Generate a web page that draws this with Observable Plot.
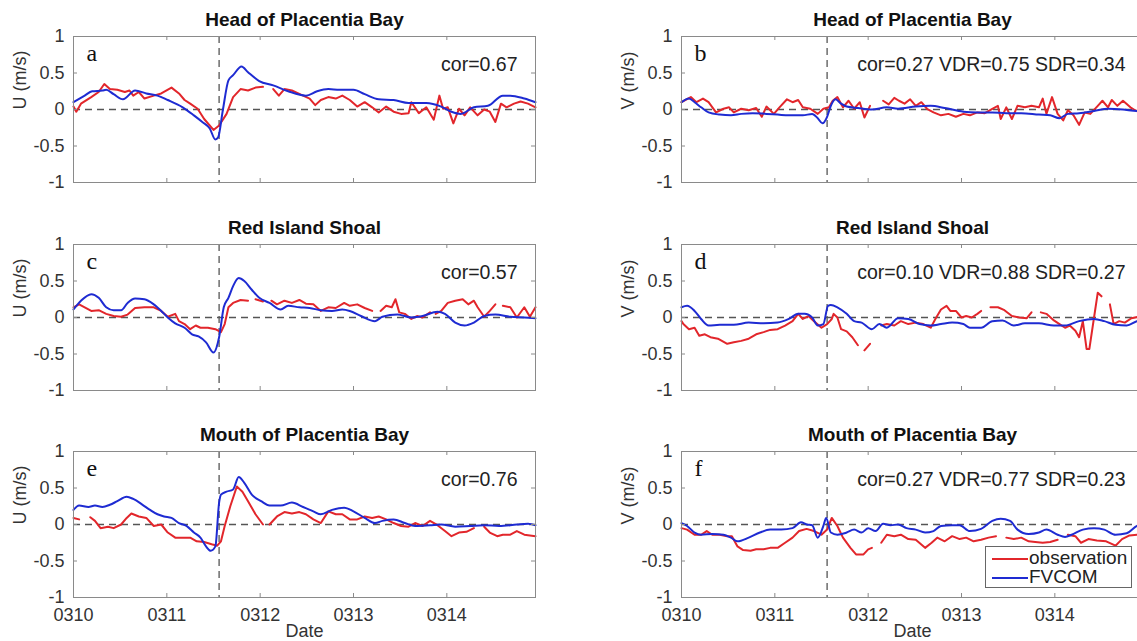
<!DOCTYPE html>
<html><head><meta charset="utf-8">
<script src="https://cdn.jsdelivr.net/npm/d3@7"></script>
<script src="https://cdn.jsdelivr.net/npm/@observablehq/plot@0.6"></script>
<style>
body{margin:0;background:#fff;}
#wrap{position:relative;width:1137px;height:641px;overflow:hidden;background:#fff;font-family:"Liberation Sans",Arial,sans-serif;}
.panel{position:absolute;}
.panel svg{overflow:visible;max-width:none !important;display:block;}
#legend{position:absolute;left:985px;top:546px;width:147px;height:42px;border:1px solid #666;background:#fff;box-sizing:border-box;font-size:19px;color:#222;}
#legend .row{position:absolute;left:6px;height:19px;line-height:19px;white-space:nowrap;}
#legend .sw{display:inline-block;width:36px;height:2px;vertical-align:middle;margin-right:1px;}
</style></head><body><div id="wrap"></div>
<script>
// ---- axes / labels ----
const days = [0, 1, 2, 3, 4];
const dayLabels = ["0310", "0311", "0312", "0313", "0314"];
const yTicks = [-1, -0.5, 0, 0.5, 1];
const yTickLabels = ["-1", "-0.5", "0", "0.5", "1"];
const eventDay = 1.56;
const titles = ["Head of Placentia Bay", "Red Island Shoal", "Mouth of Placentia Bay"];
const letters = ["a", "b", "c", "d", "e", "f"];
const stats = ["cor=0.67", "cor=0.27 VDR=0.75 SDR=0.34", "cor=0.57", "cor=0.10 VDR=0.88 SDR=0.27", "cor=0.76", "cor=0.27 VDR=0.77 SDR=0.23"];
const yLabels = ["U (m/s)", "V (m/s)"];
const seriesNames = ["observation", "FVCOM"];

// ---- data: [day since 0310 00:00, velocity m/s] ----
const aObs = [[0,.04],[.03,-.03],[.08,.08],[.19,.17],[.27,.24],[.33,.35],[.39,.28],[.47,.27],[.55,.24],[.60,.26],[.64,.19],[.70,.24],[.76,.15],[.86,.19],[.94,.22],[1.05,.30],[1.13,.22],[1.19,.13],[1.25,.08],[1.33,.01],[1.40,-.13],[1.50,-.28],[1.56,-.22],[1.64,-.06],[1.71,.17],[1.79,.28],[1.87,.26],[1.95,.30],[2.03,.31],[2.08,null],[2.14,.28],[2.20,.19],[2.26,.28],[2.34,.26],[2.46,.19],[2.53,.15],[2.59,.06],[2.65,.13],[2.73,.17],[2.81,.15],[2.88,.19],[2.96,.13],[3.04,.04],[3.12,.10],[3.20,.03],[3.27,-.04],[3.35,.04],[3.43,-.03],[3.51,-.06],[3.59,-.05],[3.62,.10],[3.70,-.05],[3.78,.03],[3.86,-.14],[3.92,.19],[3.96,.01],[4.01,.03],[4.07,-.19],[4.13,.01],[4.19,-.08],[4.25,.03],[4.33,-.08],[4.40,.00],[4.46,-.03],[4.52,-.17],[4.58,.08],[4.64,.03],[4.72,.08],[4.79,.11],[4.87,.08],[4.95,.03]];
const aMod = [[0,.10],[.12,.19],[.20,.25],[.31,.26],[.35,.27],[.43,.21],[.53,.14],[.66,.26],[.78,.22],[.90,.19],[1.01,.13],[1.17,.03],[1.29,-.08],[1.38,-.17],[1.46,-.26],[1.52,-.41],[1.55,-.38],[1.60,-.01],[1.66,.40],[1.71,.47],[1.80,.59],[1.87,.51],[1.99,.39],[2.14,.33],[2.30,.25],[2.49,.19],[2.61,.25],[2.73,.28],[2.85,.27],[3.00,.27],[3.12,.21],[3.27,.14],[3.43,.13],[3.59,.09],[3.78,.09],[3.94,.04],[4.05,-.03],[4.15,-.06],[4.29,.03],[4.44,.05],[4.60,.19],[4.68,.19],[4.83,.15],[4.95,.10]];

const bObs = [[0,.10],[.10,.17],[.16,.10],[.23,.15],[.29,.10],[.37,-.04],[.45,.01],[.51,.03],[.56,-.04],[.64,.01],[.72,-.01],[.80,.02],[.86,-.10],[.91,.04],[.99,-.06],[1.05,.03],[1.13,.14],[1.19,.10],[1.25,.13],[1.30,.03],[1.38,.01],[1.46,-.06],[1.52,.01],[1.58,.03],[1.62,.12],[1.67,.17],[1.73,.03],[1.79,.12],[1.85,.01],[1.91,.10],[1.96,-.11],[2.02,.05],[2.09,null],[2.16,.12],[2.22,.07],[2.28,.16],[2.33,.12],[2.39,.08],[2.45,.14],[2.51,.05],[2.57,.10],[2.63,.01],[2.70,-.04],[2.78,-.08],[2.86,-.06],[2.94,-.10],[3.02,-.06],[3.09,-.08],[3.17,-.04],[3.25,-.05],[3.33,.01],[3.39,.05],[3.42,-.13],[3.48,.03],[3.54,-.13],[3.60,.05],[3.68,.03],[3.75,.05],[3.83,.03],[3.87,.15],[3.91,-.06],[3.97,.17],[4.03,-.06],[4.09,-.15],[4.14,-.01],[4.20,-.08],[4.26,-.21],[4.32,-.04],[4.38,-.06],[4.46,.05],[4.51,.12],[4.57,.03],[4.61,.13],[4.67,.05],[4.73,.12],[4.81,.03],[4.86,-.01],[4.91,-.04],[4.95,-.02]];
const bMod = [[0,.10],[.08,.15],[.14,.10],[.21,.03],[.29,-.04],[.41,-.07],[.53,-.08],[.64,-.06],[.76,-.05],[.91,-.06],[1.03,-.07],[1.15,-.08],[1.30,-.08],[1.40,-.06],[1.46,-.12],[1.51,-.19],[1.56,-.10],[1.60,.05],[1.65,.14],[1.71,.08],[1.77,.04],[1.89,.02],[2.04,.00],[2.20,.03],[2.32,.01],[2.51,.04],[2.67,.05],[2.82,.02],[3.02,-.03],[3.17,-.04],[3.33,-.04],[3.48,-.05],[3.64,-.05],[3.83,-.07],[3.95,-.08],[4.05,-.12],[4.14,-.06],[4.26,-.05],[4.42,-.02],[4.57,.01],[4.73,.00],[4.88,-.02],[4.95,-.01]];

const cObs = [[0,.14],[.06,.18],[.12,.14],[.19,.09],[.27,.10],[.35,.05],[.43,.02],[.51,.01],[.58,.04],[.66,.13],[.76,.14],[.86,.14],[.94,.09],[1.01,.01],[1.09,.05],[1.13,-.05],[1.19,-.09],[1.25,-.16],[1.31,-.11],[1.36,-.14],[1.44,-.14],[1.52,-.16],[1.58,-.20],[1.62,-.09],[1.66,.14],[1.71,.20],[1.79,.24],[1.87,.23],[1.91,null],[1.95,.25],[2.03,.22],[2.08,null],[2.12,.23],[2.18,.18],[2.26,.23],[2.34,.20],[2.42,.24],[2.49,.19],[2.57,.18],[2.65,.09],[2.73,.14],[2.81,.13],[2.90,.20],[2.96,.16],[3.04,.18],[3.12,.13],[3.20,.09],[3.25,null],[3.29,.09],[3.35,.16],[3.41,.14],[3.45,.25],[3.49,.07],[3.55,.05],[3.62,-.02],[3.68,.02],[3.74,.00],[3.82,.07],[3.85,null],[3.88,.05],[3.94,.09],[4.01,.20],[4.09,.23],[4.17,.25],[4.23,.18],[4.29,.23],[4.33,.14],[4.40,.01],[4.46,.09],[4.52,.18],[4.56,null],[4.60,.16],[4.68,.14],[4.75,.00],[4.83,.14],[4.89,.01],[4.95,.14]];
const cMod = [[0,.11],[.08,.23],[.19,.32],[.27,.27],[.35,.14],[.43,.10],[.51,.10],[.58,.20],[.66,.26],[.76,.25],[.86,.18],[.94,.09],[1.01,.00],[1.09,-.08],[1.19,-.14],[1.27,-.23],[1.34,-.26],[1.42,-.34],[1.50,-.48],[1.56,-.27],[1.61,.14],[1.66,.27],[1.71,.43],[1.77,.54],[1.83,.50],[1.91,.38],[1.99,.27],[2.10,.20],[2.22,.11],[2.30,.16],[2.42,.14],[2.53,.13],[2.65,.10],[2.77,.09],[2.88,.11],[2.96,.09],[3.08,.02],[3.23,-.05],[3.31,.01],[3.47,.04],[3.62,.00],[3.74,.02],[3.90,.08],[3.98,.05],[4.09,-.07],[4.19,-.11],[4.29,-.07],[4.40,.02],[4.52,.04],[4.68,.01],[4.83,.00],[4.95,-.01]];

const dObs = [[0,-.05],[.02,-.09],[.08,-.16],[.14,-.14],[.19,-.25],[.25,-.23],[.31,-.27],[.39,-.29],[.49,-.36],[.56,-.34],[.64,-.32],[.72,-.29],[.80,-.23],[.88,-.20],[.95,-.17],[1.03,-.16],[1.11,-.11],[1.19,-.05],[1.25,.05],[1.30,-.02],[1.36,.02],[1.42,-.05],[1.50,-.14],[1.56,-.09],[1.61,-.02],[1.63,.05],[1.67,.00],[1.71,-.16],[1.77,-.19],[1.83,-.27],[1.89,-.38],[1.92,null],[1.96,-.45],[2.02,-.36],[2.08,null],[2.14,-.11],[2.20,-.09],[2.28,-.11],[2.35,-.05],[2.43,-.09],[2.51,-.07],[2.59,-.09],[2.67,-.14],[2.72,-.02],[2.78,.11],[2.84,.16],[2.88,.09],[2.94,.09],[3.00,.00],[3.05,.02],[3.11,.00],[3.17,.05],[3.21,.09],[3.26,null],[3.31,.14],[3.39,.14],[3.46,.10],[3.54,.02],[3.62,.00],[3.70,-.01],[3.75,.07],[3.80,null],[3.85,.07],[3.91,.05],[3.99,-.04],[4.05,-.09],[4.11,-.14],[4.16,-.11],[4.22,-.18],[4.26,-.27],[4.30,-.05],[4.34,-.43],[4.37,-.43],[4.42,.00],[4.46,.34],[4.50,.29],[4.55,null],[4.59,.18],[4.63,-.09],[4.69,-.05],[4.75,-.07],[4.82,-.01],[4.90,.01],[4.95,.00]];
const dMod = [[0,.14],[.06,.16],[.14,.09],[.21,-.02],[.29,-.11],[.41,-.10],[.56,-.10],[.72,-.07],[.88,-.08],[1.03,-.07],[1.15,-.02],[1.25,.05],[1.32,.05],[1.40,.00],[1.46,-.11],[1.52,-.09],[1.57,.16],[1.60,.17],[1.67,.14],[1.77,.05],[1.85,-.05],[1.93,-.07],[2.04,-.16],[2.12,-.09],[2.20,-.14],[2.32,-.01],[2.43,-.02],[2.55,-.09],[2.67,-.11],[2.78,-.09],[2.90,-.07],[3.02,-.09],[3.09,-.14],[3.21,-.14],[3.33,-.05],[3.44,-.04],[3.56,-.11],[3.68,-.08],[3.83,-.08],[3.99,-.11],[4.11,-.11],[4.26,-.05],[4.42,-.02],[4.53,-.05],[4.65,-.10],[4.77,-.11],[4.88,-.05],[4.95,-.03]];

const eObs = [[0,.09],[.06,.07],[.12,null],[.18,.10],[.23,.05],[.29,-.05],[.37,-.03],[.43,-.05],[.51,.00],[.57,.09],[.62,.15],[.70,.11],[.78,.09],[.86,-.02],[.94,.00],[1.01,-.11],[1.09,-.18],[1.17,-.18],[1.25,-.18],[1.32,-.23],[1.40,-.24],[1.48,-.27],[1.54,-.29],[1.58,-.23],[1.62,-.02],[1.68,.25],[1.75,.52],[1.81,.45],[1.87,.32],[1.95,.14],[2.03,.00],[2.07,null],[2.10,.00],[2.18,.11],[2.26,.17],[2.34,.15],[2.42,.17],[2.49,.14],[2.57,.07],[2.65,.02],[2.73,.18],[2.81,.14],[2.88,.14],[2.96,.07],[3.04,.07],[3.12,.11],[3.20,.09],[3.27,.11],[3.35,.07],[3.43,.02],[3.51,-.02],[3.59,-.03],[3.66,.02],[3.74,-.02],[3.82,.05],[3.90,-.01],[3.98,-.09],[4.05,-.16],[4.13,-.11],[4.21,-.10],[4.29,-.05],[4.35,null],[4.40,-.03],[4.46,-.11],[4.54,-.16],[4.60,-.14],[4.68,-.14],[4.75,-.09],[4.83,-.14],[4.95,-.16]];
const eMod = [[0,.20],[.06,.26],[.16,.24],[.23,.26],[.31,.24],[.39,.27],[.47,.32],[.57,.38],[.64,.35],[.74,.27],[.82,.20],[.90,.14],[.97,.11],[1.05,.09],[1.13,.02],[1.21,-.02],[1.29,-.11],[1.36,-.18],[1.42,-.30],[1.47,-.36],[1.52,-.30],[1.56,.30],[1.58,.41],[1.64,.45],[1.71,.48],[1.77,.65],[1.83,.57],[1.91,.41],[2.01,.32],[2.10,.26],[2.22,.26],[2.34,.30],[2.46,.24],[2.57,.18],[2.65,.14],[2.77,.20],[2.90,.23],[3.00,.18],[3.12,.09],[3.23,.02],[3.31,.05],[3.43,.07],[3.55,.02],[3.66,-.02],[3.82,-.01],[3.94,.00],[4.09,-.03],[4.25,-.02],[4.40,-.01],[4.56,-.02],[4.75,.00],[4.87,.01],[4.95,-.01]];

const fObs = [[0,-.05],[.06,-.07],[.14,-.14],[.21,-.14],[.27,-.09],[.33,-.14],[.41,-.14],[.49,-.16],[.54,-.16],[.60,-.30],[.66,-.35],[.74,-.36],[.80,-.34],[.88,-.34],[.95,-.32],[1.03,-.32],[1.11,-.25],[1.19,-.18],[1.26,-.09],[1.34,-.06],[1.42,-.09],[1.50,-.14],[1.56,-.07],[1.61,.09],[1.67,-.02],[1.73,-.18],[1.81,-.32],[1.87,-.41],[1.95,-.41],[2.00,-.34],[2.04,-.32],[2.09,null],[2.14,-.25],[2.20,-.14],[2.28,-.16],[2.35,-.14],[2.43,-.20],[2.51,-.21],[2.61,-.32],[2.68,-.25],[2.74,-.18],[2.82,-.23],[2.90,-.16],[2.98,-.20],[3.05,-.18],[3.13,-.23],[3.21,-.21],[3.29,-.18],[3.37,-.16],[3.43,null],[3.48,-.18],[3.56,-.20],[3.64,-.18],[3.72,-.23],[3.79,-.24],[3.87,-.25],[3.95,-.24],[4.03,-.21],[4.09,null],[4.14,-.14],[4.22,-.16],[4.28,-.25],[4.36,-.20],[4.45,-.22],[4.55,-.23],[4.65,-.29],[4.72,-.20],[4.80,-.15],[4.88,-.14],[4.95,-.15]];
const fMod = [[0,.02],[.06,-.02],[.14,-.11],[.21,-.14],[.33,-.13],[.45,-.14],[.53,-.18],[.60,-.23],[.72,-.18],[.84,-.11],[.95,-.07],[1.07,-.07],[1.19,-.05],[1.28,.03],[1.34,.00],[1.40,-.01],[1.46,-.18],[1.52,-.02],[1.55,.09],[1.60,-.11],[1.67,-.14],[1.77,-.11],[1.85,-.07],[1.93,-.11],[2.00,-.05],[2.08,-.09],[2.16,.01],[2.24,-.01],[2.32,.00],[2.41,-.05],[2.51,-.07],[2.61,-.11],[2.70,-.09],[2.78,-.02],[2.90,-.01],[2.98,-.01],[3.09,-.09],[3.21,-.06],[3.33,.05],[3.42,.08],[3.52,.05],[3.60,-.07],[3.72,-.13],[3.83,-.11],[3.91,-.07],[4.03,-.14],[4.11,-.17],[4.18,-.14],[4.30,-.07],[4.42,-.05],[4.53,-.07],[4.65,-.14],[4.77,-.12],[4.88,-.02],[4.95,.00]];

const obsSeries = [aObs, bObs, cObs, dObs, eObs, fObs];
const modSeries = [aMod, bMod, cMod, dMod, eMod, fMod];

// ---- style ----
const RED = "#e2262b", BLUE = "#1e2bd2", FRAME = "#8a8a8a", DASH = "#555";
const SANS = "'Liberation Sans', Arial, Helvetica, sans-serif";
const SERIF = "'Liberation Serif', 'Times New Roman', serif";
const cols = [{left: 0, w: 568, mL: 73, mR: 33}, {left: 568, w: 600, mL: 113, mR: 25}];
const rows = [{top: 0, h: 208, mT: 36, mB: 26}, {top: 208, h: 207, mT: 36, mB: 25}, {top: 415, h: 226, mT: 36, mB: 44}];

const wrap = document.getElementById("wrap");
const toRows = a => a.map(([t, v]) => ({t, v}));

for (let r = 0; r < 3; r++) {
  for (let c = 0; c < 2; c++) {
    const k = r * 2 + c, C = cols[c], R = rows[r];
    const plotH = R.h - R.mT - R.mB, plotW = C.w - C.mL - C.mR;
    const bottom = r === 2;
    const marks = [
      Plot.ruleY([0], {stroke: DASH, strokeDasharray: "7,5", strokeWidth: 1.3}),
      Plot.ruleX([eventDay], {stroke: DASH, strokeDasharray: "7,5", strokeWidth: 1.3}),
      Plot.line(toRows(obsSeries[k]), {x: "t", y: "v", stroke: RED, strokeWidth: 2}),
      Plot.line(toRows(modSeries[k]), {x: "t", y: "v", stroke: BLUE, strokeWidth: 2, curve: "monotone-x"}),
      Plot.frame({stroke: FRAME, strokeWidth: 1}),
      Plot.tickX(days, {x: d => d, insetTop: plotH - 4, stroke: FRAME}),
      Plot.tickX(days, {x: d => d, insetBottom: plotH - 4, stroke: FRAME}),
      Plot.tickY(yTicks, {y: d => d, insetLeft: plotW - 4, stroke: FRAME}),
      Plot.tickY(yTicks, {y: d => d, insetRight: plotW - 4, stroke: FRAME}),
      Plot.axisY({ticks: yTicks, tickSize: 0, tickPadding: 9, tickFormat: d => yTickLabels[yTicks.indexOf(d)], label: null, fontSize: 18}),
      Plot.text([titles[r]], {text: d => d, frameAnchor: "top", dy: -11, lineAnchor: "bottom", fontWeight: "bold", fontSize: 19, fill: "#111"}),
      Plot.text([letters[k]], {text: d => d, frameAnchor: "top-left", dx: 13, dy: 24, lineAnchor: "bottom", textAnchor: "start", fontFamily: SERIF, fontSize: 24, fill: "#111"}),
      Plot.text([stats[k]], {text: d => d, frameAnchor: "top-right", dx: -18, dy: 34, lineAnchor: "bottom", textAnchor: "end", fontSize: 19.5, fill: "#222"}),
      Plot.text([yLabels[c]], {text: d => d, frameAnchor: "left", dx: -53, rotate: -90, fontSize: 18, fill: "#333"})
    ];
    if (bottom) {
      marks.push(Plot.axisX({ticks: days, tickSize: 0, tickPadding: 11, tickFormat: d => dayLabels[days.indexOf(d)], label: null, fontSize: 18}));
      marks.push(Plot.text(["Date"], {text: d => d, frameAnchor: "bottom", dy: 39, lineAnchor: "bottom", fontSize: 18, fill: "#333"}));
    }
    const svg = Plot.plot({
      width: C.w, height: R.h,
      marginLeft: C.mL, marginRight: C.mR, marginTop: R.mT, marginBottom: R.mB,
      style: {fontFamily: SANS, fontSize: "18px", color: "#333", background: "transparent", overflow: "visible", maxWidth: "none"},
      x: {domain: [0, 4.95], axis: null},
      y: {domain: [-1, 1], axis: null},
      marks
    });
    svg.style.maxWidth = "none";
    svg.setAttribute("width", C.w);
    svg.setAttribute("height", R.h);
    const div = document.createElement("div");
    div.className = "panel";
    div.style.left = C.left + "px";
    div.style.top = R.top + "px";
    div.style.width = C.w + "px";
    div.style.height = R.h + "px";
    div.appendChild(svg);
    wrap.appendChild(div);
  }
}

// legend (panel f)
const legend = document.createElement("div");
legend.id = "legend";
[RED, BLUE].forEach((col, i) => {
  const row = document.createElement("div");
  row.className = "row";
  row.style.top = (i === 0 ? 1 : 20) + "px";
  const sw = document.createElement("span");
  sw.className = "sw";
  sw.style.background = col;
  row.appendChild(sw);
  row.appendChild(document.createTextNode(seriesNames[i]));
  legend.appendChild(row);
});
wrap.appendChild(legend);
</script>
</body></html>
